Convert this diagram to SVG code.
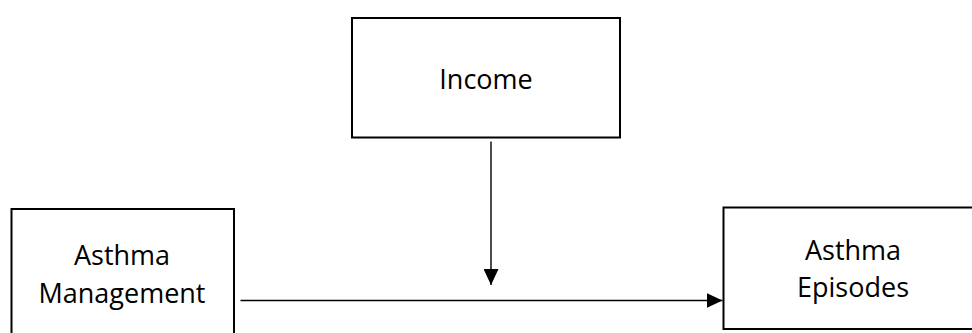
<svg xmlns="http://www.w3.org/2000/svg" width="972" height="333" viewBox="0 0 972 333">
  <style>
    .box { fill: #ffffff; stroke: #000000; stroke-width: 2; }
    .label { font-family: "Open Sans", "Noto Sans", "Liberation Sans", sans-serif; font-size: 27px; fill: #000000; text-anchor: middle; }
    .link { stroke: #000000; stroke-width: 1.4; fill: none; marker-end: url(#head); }
  </style>
  <defs>
    <marker id="head" markerUnits="userSpaceOnUse" markerWidth="16" markerHeight="15" refX="16" refY="7.5" orient="auto" viewBox="0 0 16 15">
      <path d="M0,0 L16,7.5 L0,15 Z" fill="#000000"/>
    </marker>
  </defs>
  <rect width="972" height="333" fill="#ffffff"/>

  <g id="income">
    <rect class="box" x="352" y="18" width="268" height="119.5"/>
    <text class="label" x="486" y="89">Income</text>
  </g>

  <g id="asthma-management">
    <rect class="box" x="11.5" y="209" width="222.5" height="140"/>
    <text class="label" x="122" y="265">Asthma</text>
    <text class="label" x="122" y="302.5">Management</text>
  </g>

  <g id="asthma-episodes">
    <rect class="box" x="723.5" y="207.5" width="270" height="121.5"/>
    <text class="label" x="853" y="260">Asthma</text>
    <text class="label" x="853" y="296.5">Episodes</text>
  </g>

  <g id="connectors">
    <line class="link" x1="491" y1="141.5" x2="491" y2="285"/>
    <line class="link" x1="240.5" y1="300.5" x2="722.5" y2="300.5"/>
  </g>
</svg>
